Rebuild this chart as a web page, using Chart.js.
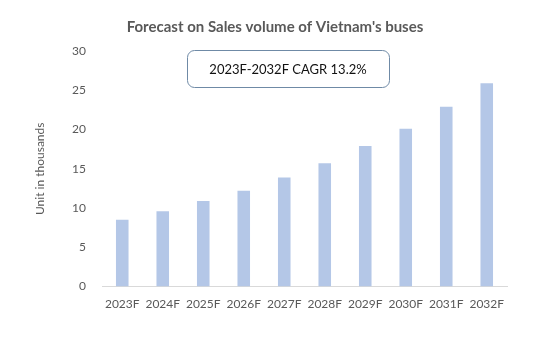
<!DOCTYPE html>
<html>
<head>
<meta charset="utf-8">
<script src="https://cdn.jsdelivr.net/npm/chart.js@4"></script>
<style>
    html, body { margin: 0; padding: 0; background: #fff; }
    #wrap { width: 550px; height: 338px; }
</style>
</head>
<body>
<div id="wrap"><canvas id="salesChart"></canvas></div>
<script>
// Data
const years = ['2023F', '2024F', '2025F', '2026F', '2027F', '2028F', '2029F', '2030F', '2031F', '2032F'];
const salesVolume = [8.5, 9.6, 10.9, 12.2, 13.9, 15.7, 17.9, 20.1, 22.9, 25.9];
const yTicks = [0, 5, 10, 15, 20, 25, 30];
const chartTitle = "Forecast on Sales volume of Vietnam's buses";
const cagrNote = '2023F-2032F CAGR 13.2%';

const FONT = 'Lato, "Open Sans", sans-serif';
const GREY = '#595959';

// Title centred on the whole picture, plus the rounded box with the CAGR note
const decorations = {
    id: 'decorations',
    afterDraw(chart) {
        const ctx = chart.ctx;
        ctx.save();
        ctx.fillStyle = GREY;
        ctx.font = 'bold 15px ' + FONT;
        ctx.textAlign = 'center';
        ctx.textBaseline = 'middle';
        ctx.fillText(chartTitle, 275, 27);

        const x = 187, y = 50, w = 202, h = 37, r = 7;
        ctx.beginPath();
        ctx.roundRect(x + 0.5, y + 0.5, w, h, r);
        ctx.fillStyle = '#fff';
        ctx.fill();
        ctx.strokeStyle = '#6f8aa6';
        ctx.lineWidth = 1;
        ctx.stroke();
        ctx.fillStyle = '#111';
        ctx.font = '13px ' + FONT;
        ctx.fillText(cagrNote, x + w / 2, y + h / 2 + 1);
        ctx.restore();
    }
};

const ctx = document.getElementById('salesChart').getContext('2d');
const salesChart = new Chart(ctx, {
    type: 'bar',
    data: {
        labels: years,
        datasets: [{
            label: 'Sales volume',
            data: salesVolume,
            backgroundColor: '#b4c7e7',
            barPercentage: 0.31,
            categoryPercentage: 1
        }]
    },
    options: {
        responsive: true,
        maintainAspectRatio: false,
        animation: false,
        layout: { padding: { left: 0, right: 43, top: 51, bottom: 17 } },
        plugins: {
            legend: { display: false },
            tooltip: { enabled: false },
            title: { display: false }
        },
        scales: {
            x: {
                grid: { display: false, drawTicks: false },
                border: { display: true, color: '#d9d9d9' },
                ticks: { color: GREY, font: { family: FONT, size: 12 }, padding: 10, maxRotation: 0 }
            },
            y: {
                min: 0,
                max: 30,
                grid: { display: false, drawTicks: false },
                border: { display: false },
                afterBuildTicks(scale) {
                    scale.ticks = yTicks.map(v => ({ value: v }));
                },
                afterFit(scale) {
                    scale.width = 102;
                },
                ticks: { color: GREY, font: { family: FONT, size: 12 }, padding: 16 },
                title: {
                    display: true,
                    text: 'Unit in thousands',
                    color: GREY,
                    font: { family: FONT, size: 12 },
                    padding: { top: 33, bottom: 0 }
                }
            }
        }
    },
    plugins: [decorations]
});
</script>
</body>
</html>
